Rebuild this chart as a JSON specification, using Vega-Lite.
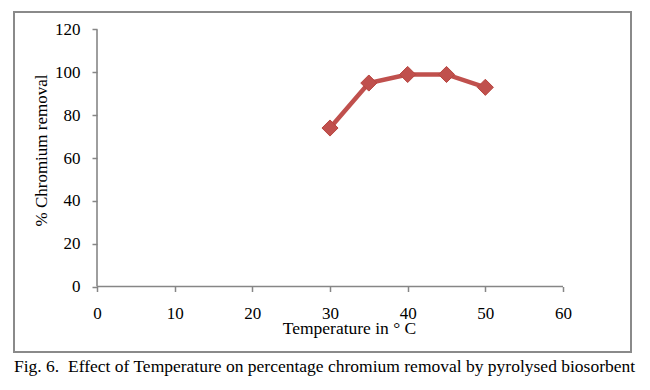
{
  "$schema": "https://vega.github.io/schema/vega-lite/v6.json",
  "autosize": "none",
  "width": 617,
  "height": 340,
  "padding": {"left": 14, "top": 12, "right": 19, "bottom": 38},
  "background": "white",
  "config": {
    "view": {"stroke": "#8a8a8a", "strokeWidth": 2},
    "font": "Liberation Serif"
  },
  "title": {
    "text": "Fig. 6.\u00a0 Effect of Temperature on percentage chromium removal by pyrolysed biosorbent",
    "orient": "bottom",
    "anchor": "start",
    "offset": 6,
    "font": "Liberation Serif",
    "fontSize": 17.5,
    "fontWeight": "normal",
    "color": "black"
  },
  "layer": [
    {
      "data": {"values": [
        {"x": 0, "y": 0, "x2": 60, "y2": 0},
        {"x": 0, "y": 0, "x2": 0, "y2": 120}
      ]},
      "mark": {"type": "rule", "color": "#868686", "strokeWidth": 1.6},
      "encoding": {
        "x": {"field": "x", "type": "quantitative"},
        "x2": {"field": "x2"},
        "y": {"field": "y", "type": "quantitative"},
        "y2": {"field": "y2"}
      }
    },
    {
      "data": {"values": [
        {"temperature": 30, "removal": 74},
        {"temperature": 35, "removal": 95},
        {"temperature": 40, "removal": 99},
        {"temperature": 45, "removal": 99},
        {"temperature": 50, "removal": 93}
      ]},
      "mark": {
        "type": "line",
        "color": "#C0504D",
        "strokeWidth": 4.5,
        "point": {"shape": "diamond", "size": 260, "filled": true, "color": "#C0504D", "stroke": "#B8453F", "strokeWidth": 1}
      },
      "encoding": {
        "x": {
          "field": "temperature",
          "type": "quantitative",
          "scale": {"domain": [-10.687, 68.755], "nice": false, "zero": false},
          "axis": {
            "values": [0, 10, 20, 30, 40, 50, 60],
            "offset": -65.5,
            "domain": false,
            "grid": false,
            "ticks": true,
            "tickSize": 5,
            "tickColor": "#868686",
            "tickWidth": 1.5,
            "labelFont": "Liberation Serif",
            "labelFontSize": 17,
            "labelColor": "black",
            "labelPadding": 14,
            "labelFlush": false,
            "labelOverlap": false,
            "title": "Temperature in ° C",
            "titleFont": "Liberation Serif",
            "titleFontSize": 17.5,
            "titleFontWeight": "normal",
            "titleColor": "black",
            "titlePadding": -2,
            "titleX": 335
          }
        },
        "y": {
          "field": "removal",
          "type": "quantitative",
          "scale": {"domain": [-30.58, 128.17], "nice": false, "zero": false},
          "axis": {
            "values": [0, 20, 40, 60, 80, 100, 120],
            "offset": -83,
            "domain": false,
            "grid": false,
            "ticks": true,
            "tickSize": 5,
            "tickColor": "#868686",
            "tickWidth": 1.5,
            "labelFont": "Liberation Serif",
            "labelFontSize": 17,
            "labelColor": "black",
            "labelPadding": 12,
            "labelFlush": false,
            "labelOverlap": false,
            "title": "% Chromium removal",
            "titleFont": "Liberation Serif",
            "titleFontSize": 17,
            "titleFontWeight": "normal",
            "titleColor": "black",
            "titlePadding": 4,
            "titleY": 138
          }
        }
      }
    }
  ]
}
